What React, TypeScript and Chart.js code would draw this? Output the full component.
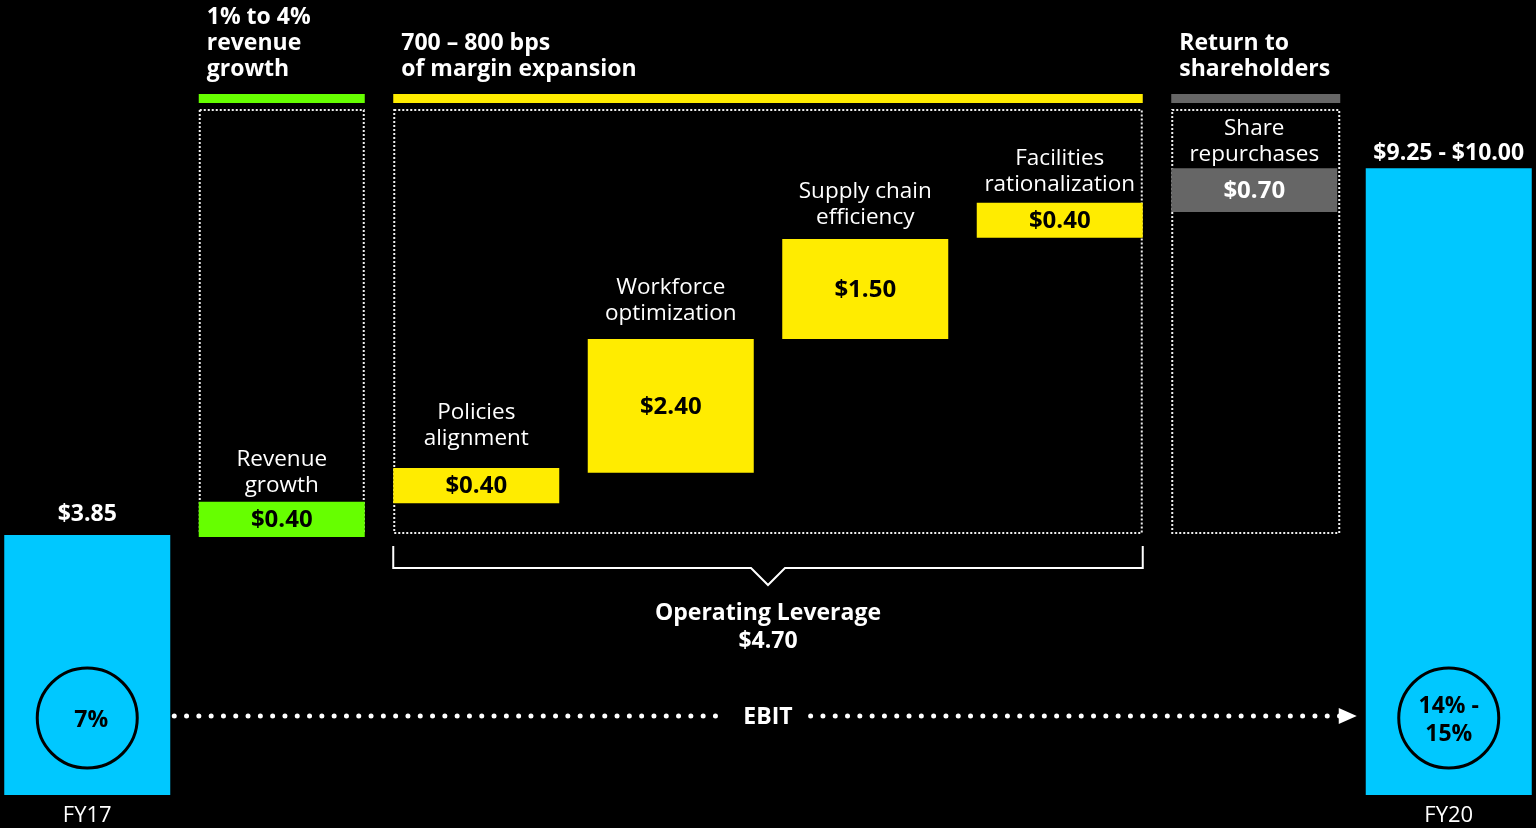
import React, { useEffect, useRef } from "react";
import { Chart, registerables } from "chart.js";
Chart.register(...registerables);

// ---- data ----
const categories = [
  "FY17",
  "Revenue growth",
  "Policies alignment",
  "Workforce optimization",
  "Supply chain efficiency",
  "Facilities rationalization",
  "Share repurchases",
  "FY20",
];
// visual extents of the floating bars (EPS-like units as drawn)
const barLow = [0, 3.82, 4.32, 4.77, 6.75, 8.25, 8.63, 0];
const barHigh = [3.85, 4.34, 4.84, 6.75, 8.23, 8.77, 9.28, 9.28];
const valueLabels = ["$3.85", "$0.40", "$0.40", "$2.40", "$1.50", "$0.40", "$0.70", "$9.25 - $10.00"];
const categoryLines = [
  [],
  ["Revenue", "growth"],
  ["Policies", "alignment"],
  ["Workforce", "optimization"],
  ["Supply chain", "efficiency"],
  ["Facilities", "rationalization"],
  ["Share", "repurchases"],
  [],
];
const axisLabels = ["FY17", "", "", "", "", "", "", "FY20"];
const ebitMargins = [["7%"], ["14% -", "15%"]];
const headerTitles = [["1% to 4%", "revenue", "growth"], ["700 – 800 bps", "of margin expansion"], ["Return to", "shareholders"]];
const headerFirst = [1, 2, 6];
const headerLast = [1, 5, 6];
const leverageLines = ["Operating Leverage", "$4.70"];

// ---- layout / style (not data) ----
const labelGaps = [0, 17, 30, 26, 23, 19, 15, 0]; // gap between bar top and its caption
const CYAN = "#00C8FF";
const GREEN = "#66FF00";
const YELLOW = "#FFEC00";
const GRAY = "#666666";
const barColors = [CYAN, GREEN, YELLOW, YELLOW, YELLOW, YELLOW, GRAY, CYAN];
const headerColors = [GREEN, YELLOW, GRAY];
const valueColors = ["#fff", "#000", "#000", "#000", "#000", "#000", "#fff", "#fff"];

const FONT = "'Open Sans', Lato, sans-serif";
const BOLD = (s: number) => `bold ${s}px ${FONT}`;
const REG = (s: number) => `${s}px ${FONT}`;

export default function App() {
  const ref = useRef<HTMLCanvasElement>(null);
  useEffect(() => {
    document.body.style.margin = "0";
    document.body.style.background = "#000";
    document.body.style.overflow = "hidden";
    const canvas = ref.current!;

    const bars = (chart: any) =>
      chart.getDatasetMeta(0).data.map((b: any) => ({
        x: b.x,
        top: Math.min(b.y, b.base),
        bottom: Math.max(b.y, b.base),
        left: b.x - b.width / 2,
        right: b.x + b.width / 2,
      }));

    const decor = {
      id: "decor",
      beforeDatasetsDraw(chart: any) {
        const ctx = chart.ctx as CanvasRenderingContext2D;
        const B = bars(chart);
        ctx.save();
        for (let g = 0; g < headerTitles.length; g++) {
          const l = B[headerFirst[g]].left;
          const r = B[headerLast[g]].right + (g === 2 ? 3 : 0);
          ctx.fillStyle = headerColors[g];
          ctx.fillRect(l, 94, r - l, 9);
          // dotted box
          ctx.strokeStyle = "#f0f0f0";
          ctx.lineWidth = 2;
          ctx.setLineDash([2, 2]);
          ctx.strokeRect(l + 1, 110, r - l - 2, 423);
          ctx.setLineDash([]);
        }
        ctx.restore();
      },
      afterDatasetsDraw(chart: any) {
        const ctx = chart.ctx as CanvasRenderingContext2D;
        const B = bars(chart);
        ctx.save();
        ctx.textBaseline = "middle";

        // header titles
        ctx.fillStyle = "#fff";
        ctx.font = BOLD(23);
        ctx.textAlign = "left";
        for (let g = 0; g < headerTitles.length; g++) {
          const lines = headerTitles[g];
          const l = B[headerFirst[g]].left + 8;
          lines.forEach((t, k) => {
            ctx.fillText(t, l, 69 - (lines.length - 1 - k) * 26);
          });
        }

        // category labels above bars
        ctx.textAlign = "center";
        ctx.font = REG(22.5);
        ctx.fillStyle = "#fff";
        categoryLines.forEach((lines, i) => {
          const b = B[i];
          lines.forEach((t, k) => {
            ctx.fillText(t, b.x, b.top - labelGaps[i] + 1 - (lines.length - 1 - k) * 26);
          });
        });

        // value labels
        ctx.font = BOLD(24);
        valueLabels.forEach((t, i) => {
          const b = B[i];
          ctx.fillStyle = valueColors[i];
          ctx.font = i === 0 || i === B.length - 1 ? BOLD(23) : BOLD(24);
          if (i === 0) ctx.fillText(t, b.x, b.top - 21);
          else if (i === B.length - 1) ctx.fillText(t, b.x, b.top - 15);
          else ctx.fillText(t, b.x, (b.top + b.bottom) / 2 + 1);
        });

        // EBIT circles
        const cy = 718;
        [0, B.length - 1].forEach((idx, j) => {
          const b = B[idx];
          ctx.beginPath();
          ctx.arc(b.x, cy, 50, 0, Math.PI * 2);
          ctx.strokeStyle = "#000";
          ctx.lineWidth = 3;
          ctx.stroke();
          ctx.fillStyle = "#000";
          ctx.font = BOLD(23);
          const lines = ebitMargins[j];
          lines.forEach((t, k) => {
            ctx.fillText(t, b.x + (j === 0 ? 4 : 0), cy + 2 + (k - (lines.length - 1) / 2) * 28);
          });
        });

        // bracket + operating leverage
        const gl = B[2].left;
        const gr = B[5].right;
        const cx = (gl + gr) / 2;
        ctx.strokeStyle = "#fff";
        ctx.lineWidth = 2;
        ctx.beginPath();
        ctx.moveTo(gl, 546);
        ctx.lineTo(gl, 568);
        ctx.lineTo(cx - 17, 568);
        ctx.lineTo(cx, 585);
        ctx.lineTo(cx + 17, 568);
        ctx.lineTo(gr, 568);
        ctx.lineTo(gr, 546);
        ctx.stroke();
        ctx.fillStyle = "#fff";
        ctx.font = BOLD(23);
        leverageLines.forEach((t, k) => ctx.fillText(t, cx, 613 + k * 28));

        // EBIT dotted arrow
        const ey = 716;
        const x0 = B[0].right + 4;
        const x1 = B[B.length - 1].left - 26;
        ctx.font = BOLD(23);
        ctx.fillText("EBIT", cx, ey + 1);
        const half = ctx.measureText("EBIT").width / 2 + 16;
        ctx.lineCap = "round";
        ctx.lineWidth = 5;
        ctx.setLineDash([0, 12.3]);
        ctx.beginPath();
        ctx.moveTo(x0, ey);
        ctx.lineTo(cx - half, ey);
        ctx.moveTo(cx + half + 2, ey);
        ctx.lineTo(x1, ey);
        ctx.stroke();
        ctx.setLineDash([]);
        const tip = B[B.length - 1].left - 9;
        ctx.beginPath();
        ctx.moveTo(tip - 18, ey - 8);
        ctx.lineTo(tip, ey);
        ctx.lineTo(tip - 18, ey + 8);
        ctx.closePath();
        ctx.fill();

        // axis labels
        ctx.font = REG(22);
        axisLabels.forEach((t, i) => {
          if (t) ctx.fillText(t, B[i].x, 816);
        });
        ctx.restore();
      },
    };

    const chart = new Chart(canvas, {
      type: "bar",
      data: {
        labels: categories,
        datasets: [
          {
            data: categories.map((_, i) => [barLow[i], barHigh[i]]) as any,
            backgroundColor: barColors,
            borderWidth: 0,
            barPercentage: 0.8535,
            categoryPercentage: 1,
          },
        ],
      },
      options: {
        responsive: false,
        animation: false,
        layout: { padding: { top: 0, bottom: 33, left: 0, right: 0 } },
        plugins: { legend: { display: false }, tooltip: { enabled: false } },
        scales: {
          x: { display: false },
          y: { display: false, min: 0, max: 11.77 },
        },
      },
      plugins: [decor],
    });
    return () => chart.destroy();
  }, []);
  return (
    <div style={{ position: "fixed", inset: 0, background: "#000", overflow: "hidden" }}>
      <canvas
        ref={ref}
        width={1556}
        height={828}
        style={{ position: "absolute", left: -10, top: 0, width: 1556, height: 828 }}
      />
    </div>
  );
}
